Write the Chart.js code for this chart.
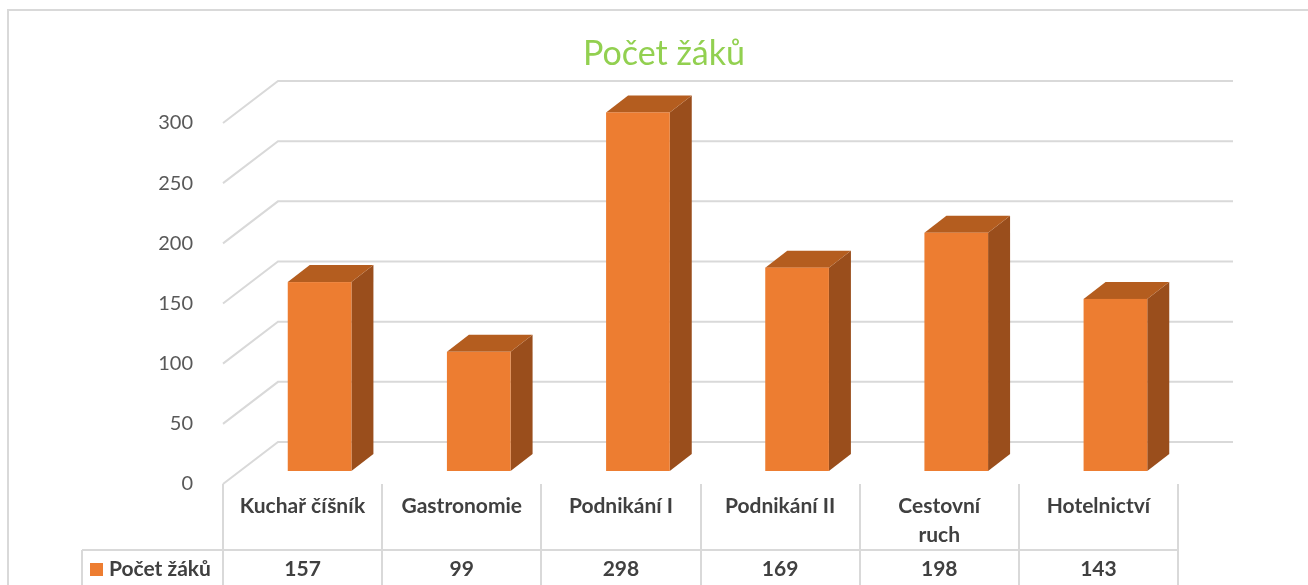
<!DOCTYPE html>
<html><head><meta charset="utf-8">
<script src="https://cdn.jsdelivr.net/npm/chart.js@4.4.1/dist/chart.umd.min.js"></script>
<style>html,body{margin:0;padding:0;background:#fff;overflow:hidden}#wrap{width:1308px;height:585px;position:relative}</style>
</head><body><div id="wrap"><canvas id="c" width="1308" height="585"></canvas></div>
<script>
const chartTitle = "Počet žáků";
const seriesName = "Počet žáků";
const categories = [["Kuchař číšník"], ["Gastronomie"], ["Podnikání I"], ["Podnikání II"], ["Cestovní", "ruch"], ["Hotelnictví"]];
const values = [157, 99, 298, 169, 198, 143];
const yTicks = [0, 50, 100, 150, 200, 250, 300];

const FONT = "Lato";
const ORANGE = "#ED7D31", ORANGE_TOP = "#B45D1F", ORANGE_SIDE = "#9A4E1C";
const GRID = "#d9d9d9";
const WALL = {dx: 55, dy: -42};
const FRONT = {dx: 17, dy: -13};
const DEPTH = {dx: 22, dy: -17};

const threeD = {
  id: 'threeD',
  beforeDatasetsDraw(chart) {
    const {ctx, chartArea: a, scales: {y}} = chart;
    ctx.save();
    ctx.strokeStyle = GRID; ctx.lineWidth = 2;
    yTicks.forEach(v => {
      const py = y.getPixelForValue(v);
      ctx.beginPath();
      ctx.moveTo(a.left, py);
      ctx.lineTo(a.left + WALL.dx, py + WALL.dy);
      ctx.lineTo(a.right + WALL.dx, py + WALL.dy);
      ctx.stroke();
    });
    ctx.restore();
  },
  afterDatasetsDraw(chart) {
    const {ctx} = chart;
    const meta = chart.getDatasetMeta(0);
    ctx.save();
    meta.data.forEach(el => {
      const p = el.getProps(['x', 'y', 'base', 'width'], true);
      const l = p.x - p.width / 2 + FRONT.dx, r = p.x + p.width / 2 + FRONT.dx;
      const t = p.y + FRONT.dy, b = p.base + FRONT.dy;
      ctx.fillStyle = ORANGE_SIDE;
      ctx.beginPath();
      ctx.moveTo(r, t); ctx.lineTo(r + DEPTH.dx, t + DEPTH.dy);
      ctx.lineTo(r + DEPTH.dx, b + DEPTH.dy); ctx.lineTo(r, b); ctx.closePath(); ctx.fill();
      ctx.fillStyle = ORANGE_TOP;
      ctx.beginPath();
      ctx.moveTo(l, t); ctx.lineTo(l + DEPTH.dx, t + DEPTH.dy);
      ctx.lineTo(r + DEPTH.dx, t + DEPTH.dy); ctx.lineTo(r, t); ctx.closePath(); ctx.fill();
      ctx.fillStyle = ORANGE;
      ctx.fillRect(l, t, r - l, b - t);
    });
    ctx.restore();
  },
  afterDraw(chart) {
    const {ctx, chartArea: a, scales: {x}} = chart;
    const n = categories.length;
    const band = (a.right - a.left) / n;
    const rowY = 550, bottom = chart.height;
    ctx.save();
    ctx.strokeStyle = GRID; ctx.lineWidth = 2;
    // outer chart border
    ctx.beginPath();
    ctx.moveTo(8, bottom); ctx.lineTo(8, 10); ctx.lineTo(chart.width, 10); ctx.stroke();
    // data table
    ctx.beginPath();
    for (let i = 0; i <= n; i++) {
      const lx = Math.round(a.left + i * band);
      ctx.moveTo(lx, a.bottom); ctx.lineTo(lx, bottom);
    }
    ctx.moveTo(82, rowY); ctx.lineTo(a.right, rowY);
    ctx.moveTo(82, rowY); ctx.lineTo(82, bottom);
    ctx.stroke();
    ctx.fillStyle = "#404040";
    ctx.font = "bold 21px " + FONT;
    ctx.textAlign = "center"; ctx.textBaseline = "alphabetic";
    categories.forEach((lines, i) => {
      const cx = x.getPixelForValue(i);
      lines.forEach((s, j) => ctx.fillText(s, cx, 513 + j * 29));
      ctx.fillText(String(values[i]), cx, 576);
    });
    ctx.fillStyle = ORANGE;
    ctx.fillRect(90, 563, 13, 13);
    ctx.fillStyle = "#404040";
    ctx.textAlign = "left";
    ctx.fillText(seriesName, 109, 576);
    ctx.restore();
  }
};

new Chart(document.getElementById('c'), {
  type: 'bar',
  data: {
    labels: categories,
    datasets: [{label: seriesName, data: values, backgroundColor: 'rgba(0,0,0,0)', borderWidth: 0,
      categoryPercentage: 0.8, barPercentage: 0.5, yAxisID: 'y'}]
  },
  options: {
    responsive: false, animation: false, devicePixelRatio: 1,
    layout: {padding: {left: 20, right: 0, top: 0, bottom: 0}},
    plugins: {
      legend: {display: false}, tooltip: {enabled: false},
      title: {display: true, text: chartTitle, color: '#92D050',
        font: {family: FONT, size: 34, weight: 'normal'}, padding: {top: 34, bottom: 48.2}}
    },
    scales: {
      x: {grid: {display: false}, border: {display: false}, ticks: {display: false},
        afterFit(s) { s.height = 101; }},
      y: {min: 0, max: 300, grid: {display: false}, border: {display: false},
        ticks: {stepSize: 50, padding: 22, color: '#595959', font: {family: FONT, size: 20}},
        afterFit(s) { s.width = 203; }},
      yRight: {position: 'right', min: 0, max: 300, grid: {display: false}, border: {display: false},
        ticks: {display: false}, afterFit(s) { s.width = 130; }}
    }
  },
  plugins: [threeD]
});
</script></body></html>
